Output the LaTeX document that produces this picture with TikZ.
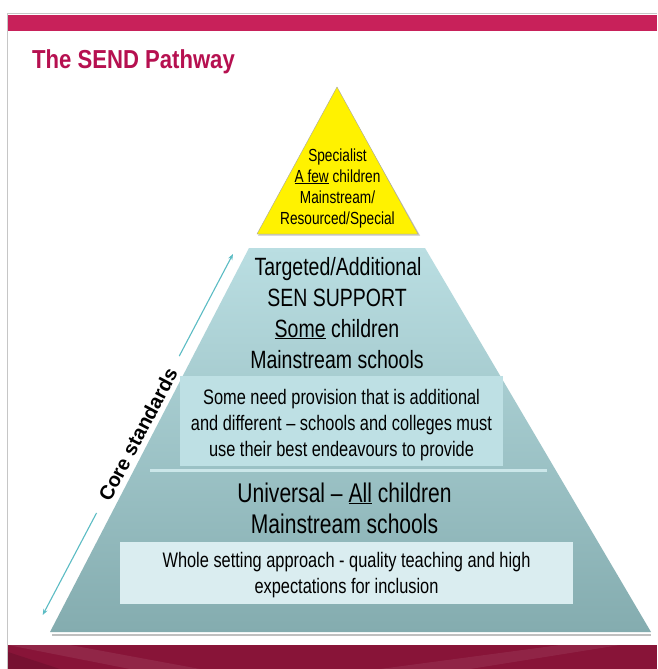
\documentclass[tikz,border=0pt]{standalone}
\usepackage{fontspec}
\setmainfont[FakeStretch=0.78]{Liberation Sans}
\newfontfamily\titlefont[FakeStretch=0.85]{Liberation Sans}
\newfontfamily\corefont{Liberation Sans}
\usetikzlibrary{arrows.meta}
\definecolor{sendred}{RGB}{200,33,90}
\definecolor{titlered}{RGB}{182,16,80}
\definecolor{bandred}{RGB}{136,20,56}
\definecolor{tealtop}{RGB}{186,222,226}
\definecolor{tealmid}{RGB}{158,198,201}
\definecolor{tealbot}{RGB}{132,172,175}
\definecolor{boxone}{RGB}{190,224,228}
\definecolor{boxtwo}{RGB}{218,237,240}
\definecolor{arrowteal}{RGB}{91,188,196}
\newcommand\fs[2]{\fontsize{#1}{#2}\selectfont}

\begin{document}
\begin{tikzpicture}[x=1pt,y=-1pt,
  ln/.style={anchor=base,inner sep=0pt},
  yel/.style={ln,font=\fs{17.5}{21}},
  big/.style={ln,font=\fs{25}{30}},
  uni/.style={ln,font=\fs{27}{32}},
  small/.style={ln,font=\fs{21}{25}},
  arr/.style={arrowteal,line width=1.1pt,-{Stealth[length=6pt,width=4.5pt]}}]
\useasboundingbox (0,0) rectangle (657,669);
\fill[white] (0,0) rectangle (657,669);

\draw[gray!45,line width=1pt] (7,669) -- (7,13.5) -- (657,13.5);
\fill[sendred] (8,15) rectangle (657,31.5);
\fill[bandred] (8,645) rectangle (657,669);
\fill[white,opacity=0.08] (8,645) -- (70,645) -- (200,669) -- (130,669) -- cycle;
\fill[black,opacity=0.12] (8,652) -- (60,669) -- (8,669) -- cycle;
\fill[white,opacity=0.07] (380,669) -- (560,645) -- (620,645) -- (470,669) -- cycle;

\node[ln,anchor=base west,text=titlered,font={\titlefont\bfseries\fs{26}{30}}] (title) at (32,68) {The SEND Pathway};

\draw[gray!50,line width=2pt] (52,635) -- (651,635);
\shade[top color=tealtop,middle color=tealmid,bottom color=tealbot] (249,248) -- (425,248) -- (651,632) -- (50,632) -- cycle;
\fill[boxone] (180,376) rectangle (503,466);
\draw[boxone!80!white,line width=3pt] (150,470) -- (547,470);
\fill[boxtwo] (120,541.5) rectangle (573,603.5);

\fill[gray!45] (337,88.5) -- (420,235.5) -- (258,235.5) -- cycle;
\filldraw[fill=yellow,draw=gray!70] (337,87) -- (418,234) -- (257,234) -- cycle;

\node[yel] (y1) at (337.5,161) {Specialist};
\node[yel] (y2) at (337.5,182) {\underline{A few} children};
\node[yel] (y3) at (337.5,203) {Mainstream/};
\node[yel] (y4) at (337.5,224) {Resourced/Special};

\node[big] (t1) at (338,275) {Targeted/Additional};
\node[big] (t2) at (337,306) {SEN SUPPORT};
\node[big] (t3) at (337,337) {\underline{Some} children};
\node[big] (t4) at (337,368) {Mainstream schools};

\node[small] (b1) at (341.5,404) {Some need provision that is additional};
\node[small] (b2) at (341.5,430) {and different -- schools and colleges must};
\node[small] (b3) at (341.5,456) {use their best endeavours to provide};

\node[uni] (u1) at (344.5,502) {Universal -- \underline{All} children};
\node[uni] (u2) at (344.5,533) {Mainstream schools};

\node[small] (w1) at (346.5,567) {Whole setting approach - quality teaching and high};
\node[small] (w2) at (346.5,593) {expectations for inclusion};

\coordinate (lo) at (42.7,615);
\coordinate (hi) at (233,254);
\node[rotate=62.2,inner sep=0pt,minimum width=177pt,font={\corefont\bfseries\fs{20}{24}}] (core) at (137.9,434.5) {Core standards};
\draw[arr] (core.east) -- (hi);
\draw[arr] (core.west) -- (lo);
\end{tikzpicture}
\end{document}
